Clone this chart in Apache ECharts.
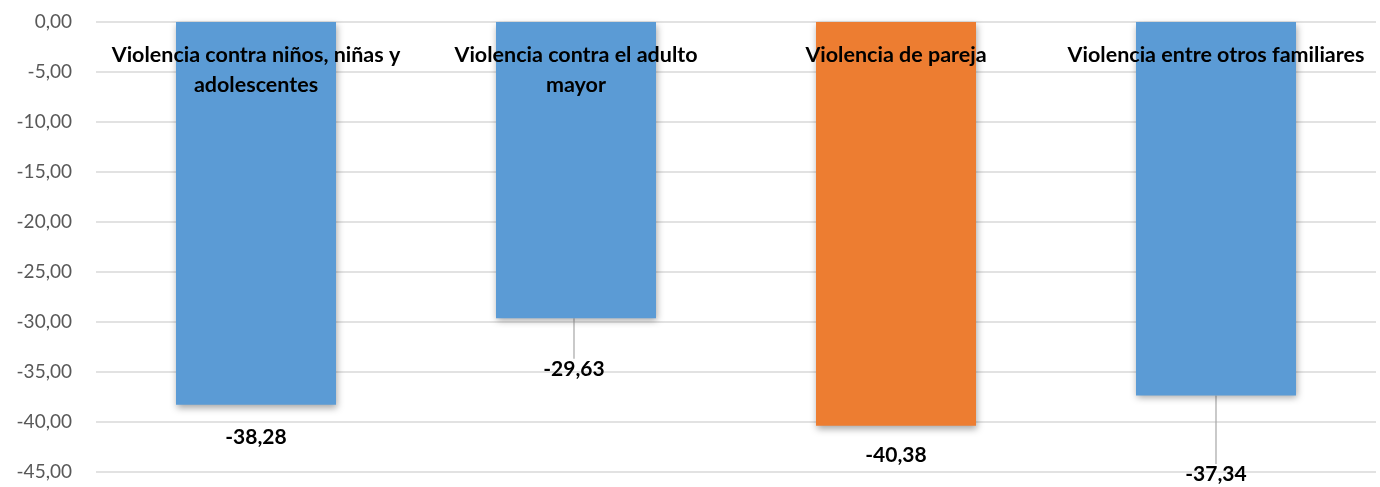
<!DOCTYPE html>
<html><head><meta charset="utf-8">
<script src="https://cdn.jsdelivr.net/npm/echarts@6/dist/echarts.min.js"></script>
<style>html,body{margin:0;padding:0;background:#fff}#c{width:1380px;height:487px}</style>
</head><body><div id="c"></div>
<script>
var categories = ['Violencia contra niños, niñas y\nadolescentes', 'Violencia contra el adulto\nmayor', 'Violencia de pareja', 'Violencia entre otros familiares'];
var values = [-38.28, -29.63, -40.38, -37.34];
var barColors = ['#5B9BD5', '#5B9BD5', '#ED7D31', '#5B9BD5'];
var labelOffsets = [[0, 32], [-2, 51], [0, 29], [0, 79]];
var showLeader = [false, true, false, true];

function fmt(v){ return v.toFixed(2).replace('.', ','); }

var chart = echarts.init(document.getElementById('c'), null, {renderer:'canvas'});
chart.setOption({
  animation: false,
  grid: {left: 96, right: 4, top: 22, bottom: 15},
  xAxis: {
    type: 'category', position: 'top', data: categories, z: 10,
    axisLine: {show: false}, axisTick: {show: false},
    axisLabel: {inside: true, margin: 18, interval: 0, fontFamily: 'Lato', fontWeight: 'bold', fontSize: 21.5, color: '#000', lineHeight: 30, verticalAlign: 'top'}
  },
  yAxis: {
    type: 'value', min: -45, max: 0, interval: 5,
    axisLine: {show: false}, axisTick: {show: false},
    splitLine: {lineStyle: {color: '#d9d9d9', width: 1.5}},
    axisLabel: {margin: 24, fontFamily: 'Lato', fontSize: 19, color: '#595959', formatter: function(v){ return fmt(v); }}
  },
  series: [{
    type: 'bar', barWidth: '50%',
    data: values.map(function(v, i){
      return {value: v, itemStyle: {color: barColors[i]}, labelLine: {show: showLeader[i]}};
    }),
    itemStyle: {shadowBlur: 7, shadowOffsetX: 1, shadowOffsetY: 3, shadowColor: 'rgba(0,0,0,0.35)'},
    label: {show: true, position: 'bottom', fontFamily: 'Lato', fontWeight: 'bold', fontSize: 21, color: '#000', formatter: function(p){ return fmt(p.value); }},
    labelLine: {show: false, lineStyle: {color: '#a6a6a6', width: 1.2}},
    labelLayout: function(p){
      var o = labelOffsets[p.dataIndex];
      var r = p.rect;
      var bottom = Math.max(r.y, r.y + r.height);
      return {x: r.x + r.width / 2 + o[0], y: bottom + o[1], align: 'center', verticalAlign: 'middle'};
    }
  }]
});
</script></body></html>
